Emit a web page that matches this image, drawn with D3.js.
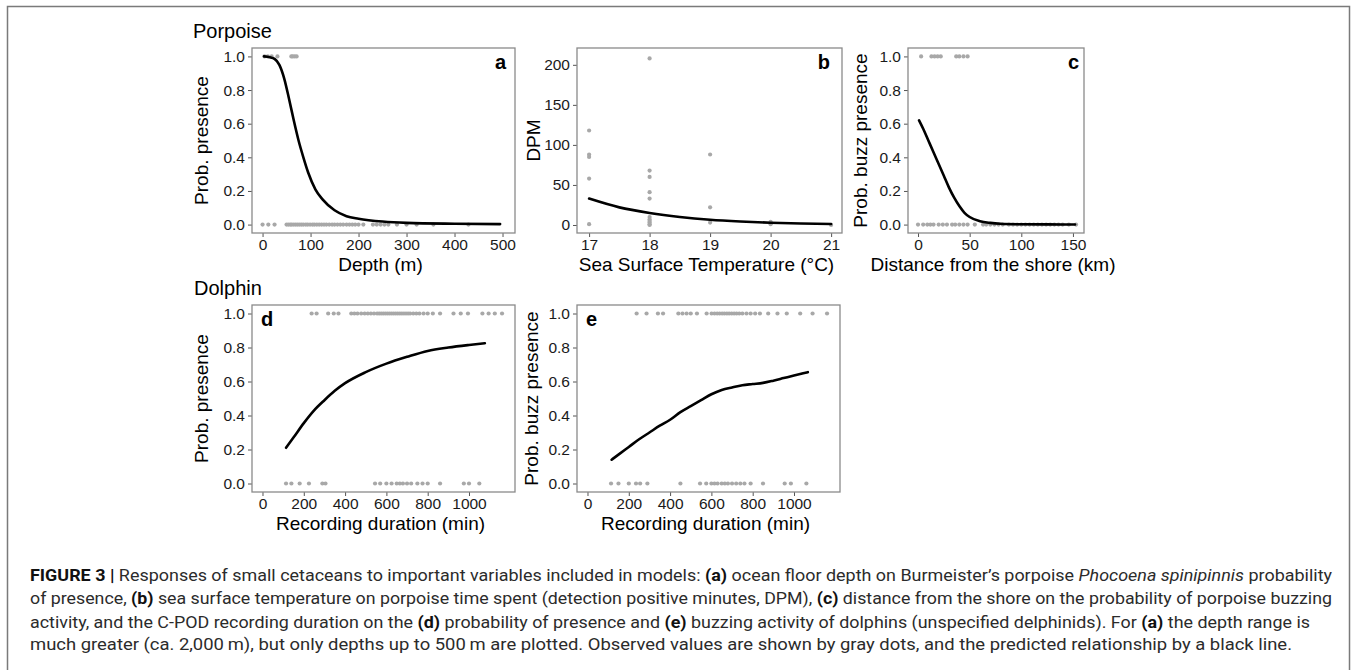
<!DOCTYPE html>
<html>
<head>
<meta charset="utf-8">
<script src="https://cdn.jsdelivr.net/npm/d3@7"></script>
<style>
  body { margin: 0; background: #fff; }
  svg text { font-family: "Liberation Sans", Arial, sans-serif; }
  .tick text { font-size: 15.5px; fill: #1a1a1a; font-family: "Liberation Sans", Arial, sans-serif; }
  .tick line { stroke: #555; }
  .caption text { font-family: Roboto, "Liberation Sans", sans-serif; }
</style>
</head>
<body>
<div id="fig"></div>
<script>
// Five response panels (porpoise a-c, dolphin d-e). Gray dots = observations
// at 0/1 (or DPM counts), black line = model prediction. Values read off the figure.

const probTicks = [0, 0.2, 0.4, 0.6, 0.8, 1.0];

// (a) depth (m) vs prob. presence
const depthTicks = [0, 100, 200, 300, 400, 500];
const depthPresent = [4, 11, 19, 31, 60, 63, 67, 71];
const depthAbsent = [0, 12, 25, 50, 54, 58, 61, 65, 69, 73, 77, 81, 85, 90, 94, 99, 104, 108,
  113, 118, 123, 128, 133, 139, 145, 150, 156, 162, 168, 175, 181, 187, 193, 200, 210,
  230, 238, 246, 254, 262, 280, 300, 321, 356, 429];
const depthCurveX = [3, 15, 25, 35, 45, 55, 65, 75, 85, 95, 110, 125, 150, 175, 200, 250, 300, 400, 495];
const depthCurveP = [1.0, 0.995, 0.985, 0.95, 0.87, 0.75, 0.62, 0.50, 0.40, 0.31, 0.21, 0.15,
  0.085, 0.05, 0.035, 0.018, 0.01, 0.005, 0.003];

// (b) SST (°C) vs DPM
const sstTicks = [17, 18, 19, 20, 21];
const dpmTicks = [0, 50, 100, 150, 200];
const sstObs = [17, 17, 17, 17, 17, 18, 18, 18, 18, 18, 18, 18, 18, 18, 18, 18, 19, 19, 19, 20, 20, 21];
const dpmObs = [118, 88, 85, 58, 1, 208, 68, 60, 41, 33, 10, 7, 5, 3, 1, 0, 88, 22, 3, 4, 1, 0];
const sstCurveX = [17, 17.5, 18, 18.5, 19, 19.5, 20, 20.5, 21];
const sstCurveDpm = [33, 22, 15, 10, 6.5, 4.3, 2.8, 1.8, 1.2];

// (c) distance from shore (km) vs prob. buzz presence
const shoreTicks = [0, 50, 100, 150];
const shorePresent = [3, 13, 16, 19, 22, 37, 40, 44, 48];
const shoreAbsent = [0, 5, 9, 12, 15, 20, 24, 28, 33, 36, 40, 44, 48, 55, 63, 66, 70, 74, 78,
  82, 88, 92, 96, 100, 104, 108, 112, 116, 120, 124, 128, 132, 136, 140, 146, 153];
const shoreCurveX = [1, 5, 10, 15, 20, 25, 30, 35, 40, 45, 50, 60, 70, 80, 100, 125, 152];
const shoreCurveP = [0.62, 0.57, 0.50, 0.43, 0.36, 0.29, 0.22, 0.16, 0.11, 0.07, 0.045, 0.02,
  0.01, 0.005, 0.002, 0.001, 0.0005];

// (d) recording duration (min) vs dolphin prob. presence
const durTicks = [0, 200, 400, 600, 800, 1000];
const durPresentD = [238, 262, 318, 345, 368, 430, 445, 460, 478, 495, 510, 525, 540, 555, 565,
  575, 585, 595, 605, 615, 625, 635, 645, 655, 665, 675, 685, 695, 705, 715, 730, 745, 760,
  780, 800, 825, 860, 925, 960, 995, 1065, 1095, 1125, 1160];
const durAbsentD = [114, 140, 180, 225, 290, 305, 545, 570, 600, 625, 650, 665, 680, 700, 720,
  750, 775, 800, 860, 975, 1000, 1050];
const durCurveXD = [114, 150, 200, 250, 300, 350, 400, 500, 600, 700, 800, 900, 1000, 1077];
const durCurvePD = [0.21, 0.27, 0.355, 0.43, 0.49, 0.545, 0.59, 0.655, 0.705, 0.745, 0.78, 0.80, 0.815, 0.825];

// (e) recording duration (min) vs dolphin prob. buzz presence
const durPresentE = [238, 286, 341, 366, 440, 460, 480, 500, 530, 577, 601, 615, 628, 640, 652,
  663, 675, 686, 698, 710, 722, 735, 750, 770, 790, 812, 835, 875, 920, 965, 1030, 1090, 1160];
const durAbsentE = [114, 150, 200, 235, 255, 290, 450, 545, 575, 600, 615, 630, 650, 665, 680,
  700, 720, 740, 760, 790, 850, 955, 985, 1060];
const durCurveXE = [117, 150, 200, 250, 300, 350, 400, 450, 500, 550, 600, 650, 700, 750, 800,
  850, 900, 950, 1000, 1067];
const durCurvePE = [0.14, 0.17, 0.215, 0.26, 0.30, 0.34, 0.375, 0.42, 0.455, 0.49, 0.525, 0.55,
  0.565, 0.578, 0.585, 0.592, 0.605, 0.62, 0.635, 0.655];

const captionLines = [
  [["FIGURE 3 |", "b"], [" Responses of small cetaceans to important variables included in models: "], ["(a)", "b"],
   [" ocean floor depth on Burmeister\u2019s porpoise "], ["Phocoena spinipinnis", "i"], [" probability"]],
  [["of presence, "], ["(b)", "b"], [" sea surface temperature on porpoise time spent (detection positive minutes, DPM), "],
   ["(c)", "b"], [" distance from the shore on the probability of porpoise buzzing"]],
  [["activity, and the C-POD recording duration on the "], ["(d)", "b"], [" probability of presence and "], ["(e)", "b"],
   [" buzzing activity of dolphins (unspecified delphinids). For "], ["(a)", "b"], [" the depth range is"]],
  [["much greater (ca. 2,000\u2009m), but only depths up to 500\u2009m are plotted. Observed values are shown by gray dots, and the predicted relationship by a black line."]]
];

const W = 1357, H = 670;
const svg = d3.select("#fig").append("svg").attr("width", W).attr("height", H);

// outer figure frame
svg.append("rect").attr("x", 7.5).attr("y", 6.5).attr("width", 1342).attr("height", 680)
  .attr("fill", "none").attr("stroke", "#7a7a7a").attr("stroke-width", 1.5);

const binary = (pres, abs) => pres.map((v) => [v, 1]).concat(abs.map((v) => [v, 0]));

function panel(p) {
  const x = d3.scaleLinear(p.xDomain, [p.left, p.right]);
  const y = d3.scaleLinear(p.yDomain, [p.bottom, p.top]);
  const g = svg.append("g");

  g.append("g").attr("transform", `translate(0,${p.bottom})`)
    .call(d3.axisBottom(x).tickValues(p.xTicks).tickSize(4).tickPadding(2).tickFormat(d3.format("d")))
    .call((a) => a.select(".domain").remove());
  g.append("g").attr("transform", `translate(${p.left},0)`)
    .call(d3.axisLeft(y).tickValues(p.yTicks).tickSize(4).tickPadding(3).tickFormat(p.yFormat))
    .call((a) => a.select(".domain").remove());

  g.append("g").selectAll("circle").data(p.points).join("circle")
    .attr("cx", (d) => x(d[0])).attr("cy", (d) => y(d[1])).attr("r", 2.1).attr("fill", "#a8a8a8");

  const line = d3.line().x((d) => x(d[0])).y((d) => y(d[1])).curve(d3.curveMonotoneX);
  g.append("path").datum(d3.zip(p.curveX, p.curveY)).attr("d", line)
    .attr("fill", "none").attr("stroke", "#000").attr("stroke-width", 2.6).attr("stroke-linecap", "round");

  g.append("rect").attr("x", p.left).attr("y", p.top)
    .attr("width", p.right - p.left).attr("height", p.bottom - p.top)
    .attr("fill", "none").attr("stroke", "#8a8a8a").attr("stroke-width", 1.3);

  g.append("text").attr("x", p.tagX).attr("y", p.tagY).attr("text-anchor", p.tagAnchor)
    .attr("font-size", 20).attr("font-weight", "bold").text(p.tag);

  g.append("text").attr("text-anchor", "middle").attr("font-size", 19)
    .attr("x", (p.left + p.right) / 2 - 3).attr("y", p.bottom + 38).text(p.xTitle);
  g.append("text").attr("text-anchor", "middle").attr("font-size", 19)
    .attr("transform", `translate(${p.yTitleX},${(p.top + p.bottom) / 2}) rotate(-90)`).text(p.yTitle);
}

const f1 = d3.format(".1f"), f0 = d3.format("d");
const top1 = { top: 48, bottom: 233 }, top2 = { top: 305, bottom: 492 };

panel({ ...top1, left: 252, right: 515, xDomain: [-22, 526], yDomain: [-0.05, 1.05],
  xTicks: depthTicks, yTicks: probTicks, yFormat: f1,
  points: binary(depthPresent, depthAbsent), curveX: depthCurveX, curveY: depthCurveP,
  tag: "a", tagX: 506, tagY: 69, tagAnchor: "end",
  xTitle: "Depth (m)", yTitle: "Prob. presence", yTitleX: 208 });

panel({ ...top1, left: 577, right: 842, xDomain: [16.8, 21.18], yDomain: [-10, 221],
  xTicks: sstTicks, yTicks: dpmTicks, yFormat: f0,
  points: d3.zip(sstObs, dpmObs), curveX: sstCurveX, curveY: sstCurveDpm,
  tag: "b", tagX: 830, tagY: 69, tagAnchor: "end",
  xTitle: "Sea Surface Temperature (\u00b0C)", yTitle: "DPM", yTitleX: 540 });

panel({ ...top1, left: 908, right: 1084, xDomain: [-9.7, 160.7], yDomain: [-0.05, 1.05],
  xTicks: shoreTicks, yTicks: probTicks, yFormat: f1,
  points: binary(shorePresent, shoreAbsent), curveX: shoreCurveX, curveY: shoreCurveP,
  tag: "c", tagX: 1079, tagY: 69, tagAnchor: "end",
  xTitle: "Distance from the shore (km)", yTitle: "Prob. buzz presence", yTitleX: 867 });

panel({ ...top2, left: 252, right: 515, xDomain: [-50.8, 1222.8], yDomain: [-0.05, 1.05],
  xTicks: durTicks, yTicks: probTicks, yFormat: f1,
  points: binary(durPresentD, durAbsentD), curveX: durCurveXD, curveY: durCurvePD,
  tag: "d", tagX: 261, tagY: 326, tagAnchor: "start",
  xTitle: "Recording duration (min)", yTitle: "Prob. presence", yTitleX: 208 });

panel({ ...top2, left: 577, right: 840, xDomain: [-50.8, 1222.8], yDomain: [-0.05, 1.05],
  xTicks: durTicks, yTicks: probTicks, yFormat: f1,
  points: binary(durPresentE, durAbsentE), curveX: durCurveXE, curveY: durCurvePE,
  tag: "e", tagX: 586, tagY: 326, tagAnchor: "start",
  xTitle: "Recording duration (min)", yTitle: "Prob. buzz presence", yTitleX: 538 });

// row titles
svg.append("text").attr("x", 193).attr("y", 38).attr("font-size", 20).text("Porpoise");
svg.append("text").attr("x", 194).attr("y", 295).attr("font-size", 20).text("Dolphin");

// caption
const cap = svg.append("g").attr("class", "caption");
const capY = [581, 604, 628, 650];
const capW = [1302, 1302, 1280, 1262];
captionLines.forEach((parts, i) => {
  const t = cap.append("text").attr("x", 30).attr("y", capY[i]).attr("font-size", 17)
    .attr("fill", "#2b2b2b").attr("textLength", capW[i]).attr("lengthAdjust", "spacingAndGlyphs");
  parts.forEach(([s, st]) => {
    const sp = t.append("tspan").text(s);
    if (st === "b") sp.attr("font-weight", "bold").attr("fill", "#111");
    if (st === "i") sp.attr("font-style", "italic");
  });
});
</script>
</body>
</html>
